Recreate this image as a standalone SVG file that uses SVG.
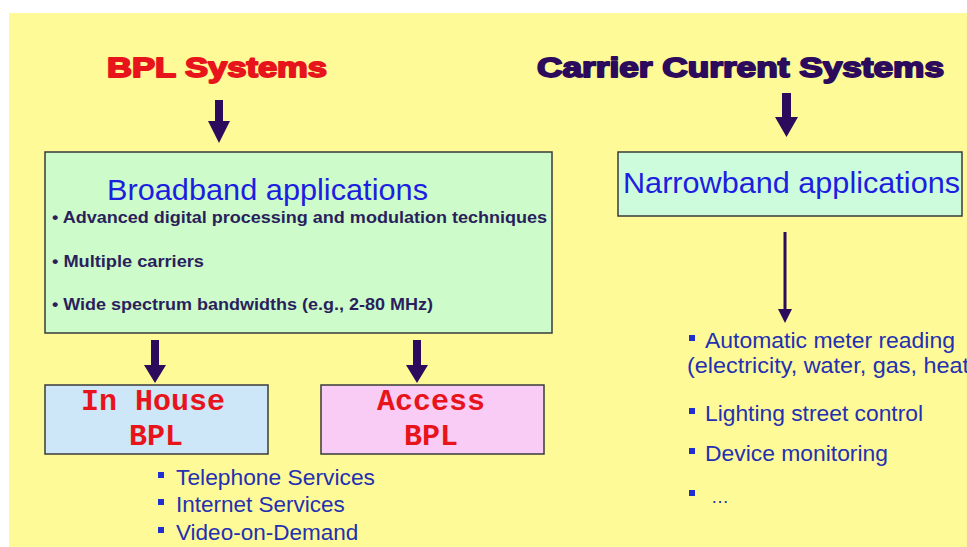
<svg xmlns="http://www.w3.org/2000/svg" width="967" height="547" viewBox="0 0 967 547">
  <style>
    .box { stroke: #3a3a3a; stroke-width: 1.5; }
    .title { font-family: "Liberation Sans", Arial, sans-serif; font-weight: bold; font-size: 27px; stroke-width: 1.8; stroke-linejoin: round; }
    .head { font-family: "Liberation Sans", Arial, sans-serif; font-size: 29px; fill: #1c1ee0; }
    .feat { font-family: "Liberation Sans", Arial, sans-serif; font-weight: bold; font-size: 16px; fill: #2a1f5c; }
    .mono { font-family: "Liberation Mono", "Courier New", monospace; font-weight: bold; font-size: 30px; fill: #e8141c; text-anchor: middle; }
    .item { font-family: "Liberation Sans", Arial, sans-serif; font-size: 22.5px; fill: #2430b0; }
    .sq { fill: #1f2fd0; }
    .arrow { fill: #2c0a5c; }
    .thin { stroke: #2c0a5c; stroke-width: 3; fill: none; }
  </style>

  <!-- page background -->
  <rect x="0" y="0" width="967" height="547" fill="#ffffff"/>
  <rect x="9" y="13" width="958" height="534" fill="#fefa98"/>

  <!-- headings -->
  <g id="bpl-systems">
    <text class="title" x="107" y="77" fill="#e8141c" stroke="#e8141c" textLength="220" lengthAdjust="spacingAndGlyphs">BPL Systems</text>
  </g>
  <g id="carrier-current-systems">
    <text class="title" x="537" y="77" fill="#2c0a5c" stroke="#2c0a5c" textLength="407" lengthAdjust="spacingAndGlyphs">Carrier Current Systems</text>
  </g>

  <!-- broadband node -->
  <g id="broadband">
    <rect class="box" x="45" y="152" width="507" height="181" fill="#cdfbc9"/>
    <text class="head" x="107" y="200" textLength="321" lengthAdjust="spacingAndGlyphs">Broadband applications</text>
    <text class="feat" x="52" y="223" textLength="495" lengthAdjust="spacingAndGlyphs">• Advanced digital processing and modulation techniques</text>
    <text class="feat" x="52" y="267" textLength="152" lengthAdjust="spacingAndGlyphs">• Multiple carriers</text>
    <text class="feat" x="52" y="310" textLength="381" lengthAdjust="spacingAndGlyphs">• Wide spectrum bandwidths (e.g., 2-80 MHz)</text>
  </g>

  <!-- narrowband node -->
  <g id="narrowband">
    <rect class="box" x="618" y="152" width="344" height="64" fill="#cdfcdc"/>
    <text class="head" x="623" y="193" textLength="337" lengthAdjust="spacingAndGlyphs">Narrowband applications</text>
  </g>

  <!-- in-house node -->
  <g id="in-house-bpl">
    <rect class="box" x="45" y="385" width="223" height="69" fill="#cde6f8"/>
    <text class="mono" x="153" y="410">In House</text>
    <text class="mono" x="156" y="445">BPL</text>
  </g>

  <!-- access node -->
  <g id="access-bpl">
    <rect class="box" x="321" y="385" width="223" height="69" fill="#f9ccf5"/>
    <text class="mono" x="431" y="410">Access</text>
    <text class="mono" x="431" y="445">BPL</text>
  </g>

  <!-- broadband services -->
  <g id="bpl-services">
    <rect class="sq" x="158" y="472" width="6" height="6"/>
    <text class="item" x="176" y="485" textLength="199" lengthAdjust="spacingAndGlyphs">Telephone Services</text>
    <rect class="sq" x="158" y="499" width="6" height="6"/>
    <text class="item" x="176" y="512">Internet Services</text>
    <rect class="sq" x="158" y="527" width="6" height="6"/>
    <text class="item" x="176" y="540">Video-on-Demand</text>
  </g>

  <!-- narrowband uses -->
  <g id="narrowband-uses">
    <rect class="sq" x="689" y="335" width="6" height="6"/>
    <text class="item" x="705" y="348" textLength="250" lengthAdjust="spacingAndGlyphs">Automatic meter reading</text>
    <text class="item" x="687" y="373" textLength="282" lengthAdjust="spacingAndGlyphs">(electricity, water, gas, heat</text>
    <rect class="sq" x="689" y="408" width="6" height="6"/>
    <text class="item" x="705" y="421" textLength="218" lengthAdjust="spacingAndGlyphs">Lighting street control</text>
    <rect class="sq" x="689" y="448" width="6" height="6"/>
    <text class="item" x="705" y="461" textLength="183" lengthAdjust="spacingAndGlyphs">Device monitoring</text>
    <rect class="sq" x="689" y="490" width="6" height="6"/>
    <text class="item" x="711" y="503" style="font-size:18px" fill="#5a5aa0" textLength="21" lengthAdjust="spacing">…</text>
  </g>

  <!-- connectors -->
  <g id="connectors">
    <path class="arrow" d="M215,100 H223 V121 H230 L219,143 L208,121 H215 Z"/>
    <path class="arrow" d="M782,93 H791 V117 H798 L786.5,137 L775,117 H782 Z"/>
    <path class="arrow" d="M151,340 H159 V365 H166 L155,383 L144,365 H151 Z"/>
    <path class="arrow" d="M413,340 H421 V365 H428 L417,383 L406,365 H413 Z"/>
    <line class="thin" x1="785" y1="232" x2="785" y2="312"/>
    <path class="arrow" d="M778,309 H792 L785,323 Z"/>
  </g>
</svg>
